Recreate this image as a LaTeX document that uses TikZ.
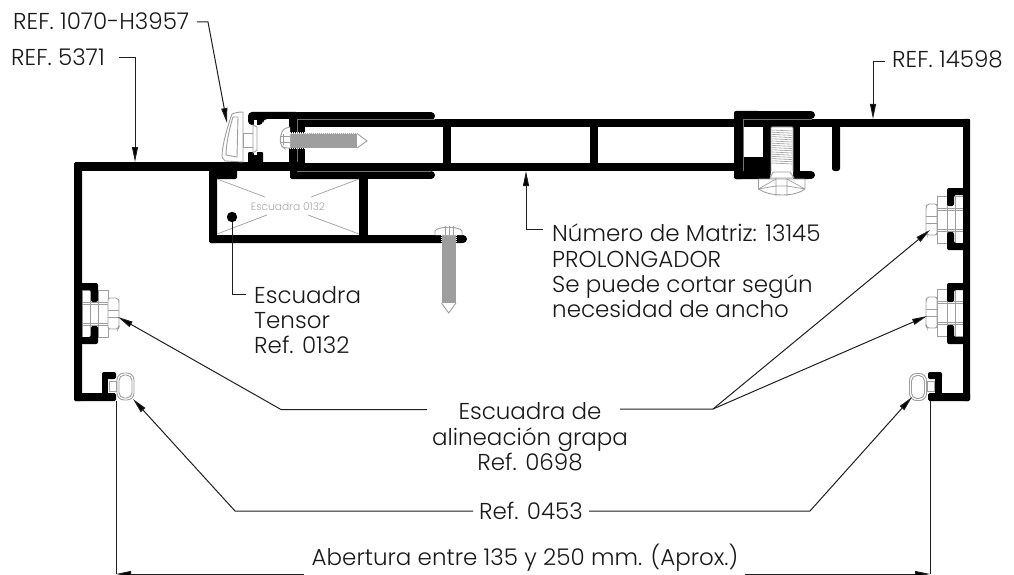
\documentclass[tikz,border=0pt]{standalone}
\usepackage{fontspec}
\setmainfont{Poppins}[UprightFont=* Light]
\usetikzlibrary{arrows.meta}
\definecolor{leadc}{gray}{0.12}
\definecolor{partc}{gray}{0.62}
\definecolor{screwc}{gray}{0.62}
\tikzset{
  blk/.style={fill=black,draw=none},
  wht/.style={fill=white,draw=none},
  part/.style={draw=partc,line width=0.9pt,fill=white},
  thin mark/.style={draw=black!55!white,line width=0.5pt},
  leader/.style={draw=leadc,line width=1pt},
  arrowed/.style={leader,-{Triangle[length=15pt,width=6pt,fill=black]}},
  label/.style={inner sep=0pt,font=\fontsize{23}{25.3}\selectfont,text=black!90!white},
  small/.style={inner sep=0pt,font=\fontsize{10.6}{12}\selectfont,text=black!35!white}
}
% alignment clip: origin at the wall face, pointing to +x
\newcommand{\grapaclip}{%
  \draw[part] (0,-24) rectangle (8,23);
  \draw[part] (8,-24) rectangle (16,23);
  \draw[part] (16,-24) rectangle (26,23);
  \draw[part,rounded corners=2pt] (26,-16) -- (36,-16) -- (37,-13) -- (37,13) -- (36,15) -- (26,15) -- cycle;
  \draw[partc,line width=0.8pt] (0,-12) -- (26,-12) (0,-9.5) -- (26,-9.5) (0,9) -- (26,9) (0,11.5) -- (26,11.5) (26,-4) -- (37,-4) (26,3) -- (37,3) (8,-12) -- (8,11) (16,-12) -- (16,11);
}
% oval clip
\newcommand{\ovalclip}{%
  \draw[part,rounded corners=7pt] (-8.5,-13.5) rectangle (8.5,13.5);
  \draw[part,rounded corners=5.5pt] (-6.5,-11.5) rectangle (6.5,11.5);
}
\begin{document}
\begin{tikzpicture}[x=1pt,y=-1pt]
\useasboundingbox (0,0) rectangle (1014,575);
% ---- gray parts under the profiles
\begin{scope}[shift={(82,314)}]\grapaclip\end{scope}
\begin{scope}[shift={(963,220)},xscale=-1]\grapaclip\end{scope}
\begin{scope}[shift={(963,313)},xscale=-1]\grapaclip\end{scope}
% ---- left profile REF. 5371
\fill[blk,rounded corners=1.5pt] (74,162) rectangle (82,401);
\fill[blk] (76,162) rectangle (305,171);
\fill[blk,rounded corners=1.5pt] (74,393) rectangle (116,401);
\fill[blk,rounded corners=2pt] (102,372) rectangle (116,379);
\fill[blk] (102,374) rectangle (108,395);
\fill[blk,rounded corners=2pt] (76,283) -- (98,283) -- (98,302) -- (91,302) -- (91,290) -- (76,290) -- cycle;
\fill[blk,rounded corners=2pt] (76,344) -- (98,344) -- (98,326) -- (91,326) -- (91,337) -- (76,337) -- cycle;
% box with square Escuadra
\fill[blk,rounded corners=1.5pt] (209,168) rectangle (217,243);
\fill[blk,rounded corners=1.5pt] (209,235) rectangle (463,243);
\fill[blk] (463,239) circle (4);
\fill[blk] (359,175) rectangle (368,240);
\fill[blk,rounded corners=1.5pt] (209,168) rectangle (237,179);
\fill[blk,rounded corners=1.5pt] (290,168) rectangle (360,179);
% ---- middle profile: PROLONGADOR
\fill[blk,rounded corners=4pt] (248,125) -- (248,112) -- (300,112) -- (300,119) -- (263,119) -- (263,125) -- cycle;
\fill[blk] (290,112) rectangle (431,120);
\fill[blk] (431,116) circle (4);
\fill[blk] (289,112) rectangle (305,171);
\fill[blk] (300,119) rectangle (740,127);
\fill[blk] (300,163) rectangle (740,171);
\fill[blk] (300,171) rectangle (431,179);
\fill[blk] (431,175) circle (4);
\fill[blk] (443,127) rectangle (451,163);
\fill[blk] (590,127) rectangle (598,163);
\fill[blk,rounded corners=1pt] (248,152) rectangle (263,163);
\fill[wht] (253.5,120) rectangle (257,127);
\fill[wht] (253.5,151) rectangle (257,155);
\draw[thin mark] (297,119) -- (297,162) (297,119) -- (435,119) (297,171) -- (431,171);
% ---- right profile REF. 14598
\fill[blk,rounded corners=2pt] (734,122) -- (734,111) -- (760,111) -- (760,122) -- cycle;
\fill[blk] (740,111) rectangle (811,120);
\fill[blk] (811,115) circle (4);
\fill[blk,rounded corners=1.5pt] (734,115) rectangle (743,179);
\fill[blk] (743,119) rectangle (970,127);
\fill[blk,rounded corners=1.5pt] (963,119) rectangle (970,401);
\fill[blk,rounded corners=2pt] (734,171) rectangle (811,179);
\fill[blk] (811,175) circle (4);
\fill[blk] (743,157) rectangle (763,171);
\fill[blk] (763,127) rectangle (771,172);
\fill[blk] (793,127) rectangle (800,172);
\fill[blk,rounded corners=2.5pt] (832,125) rectangle (840,171);
\fill[blk,rounded corners=2pt] (965,188) -- (947,188) -- (947,206) -- (954,206) -- (954,195) -- (965,195) -- cycle;
\fill[blk,rounded corners=2pt] (965,250) -- (947,250) -- (947,232) -- (954,232) -- (954,243) -- (965,243) -- cycle;
\fill[blk,rounded corners=2pt] (965,283) -- (947,283) -- (947,302) -- (954,302) -- (954,290) -- (965,290) -- cycle;
\fill[blk,rounded corners=2pt] (965,344) -- (947,344) -- (947,325) -- (954,325) -- (954,337) -- (965,337) -- cycle;
\fill[blk,rounded corners=1.5pt] (928,393) rectangle (970,401);
\fill[blk,rounded corners=2pt] (928,372) rectangle (942,379);
\fill[blk] (935,374) rectangle (942,395);
\draw[thin mark] (743,119) -- (743,171) (743,119) -- (812,119);
% ---- box contents
\draw[partc,line width=0.7pt] (217,179) -- (265,197) (359,179) -- (311,197) (217,234) -- (267,215) (359,234) -- (308,215);
\draw[white,line width=0.8pt] (217,234.5) -- (359,234.5);
\node[small] (esc132) at (288,207) {Escuadra 0132};
% ---- oval clips
\begin{scope}[shift={(125.5,386.5)}]\ovalclip\end{scope}
\begin{scope}[shift={(918,387)}]\ovalclip\end{scope}
\draw[part] (109,381) rectangle (116,391);
\draw[part] (927,381) rectangle (934,391);
% ---- clip REF. 1070-H3957
\draw[part] (243,112) .. controls (238,112) and (234,113) .. (232,114) .. controls (228,125) and (222,145) .. (222,157) -- (225,161) -- (243,162) -- cycle;
\draw[part] (238,117) -- (233,117) .. controls (229,130) and (226,145) .. (226,155) -- (237,157) -- cycle;
\draw[part] (243,133) rectangle (253,147);
\draw[part] (253,125) -- (257,127) -- (257,150) -- (253,153) -- cycle;
% ---- horizontal screw
\fill[screwc] (290,133.5) rectangle (357,148);
\foreach \i in {0,2,...,66}{\fill[white] (290+\i,132.5) rectangle (291+\i,134);\fill[white] (290+\i,147.5) rectangle (291+\i,149);}
\draw[part] (357,133.5) -- (367,141) -- (357,148);
\draw[part,rounded corners=3pt] (290,127) -- (283,129) -- (280,138) -- (281,146) -- (284,148) -- (290,148);
\draw[partc,line width=0.7pt] (280,136) -- (290,136) (280,142) -- (290,142) (283,134) -- (283,145);
% ---- vertical screw
\fill[screwc] (441.5,235) rectangle (456,303);
\foreach \i in {0,2,...,68}{\fill[white] (440.5,235+\i) rectangle (442,236+\i);\fill[white] (455.5,235+\i) rectangle (457,236+\i);}
\draw[part] (441.5,303) -- (448.7,313) -- (456,303);
\draw[part] (435,235) -- (435,231) .. controls (437,226) and (460,226) .. (462,231) -- (462,235);
\draw[partc,line width=0.7pt] (445,226) -- (445,235) (449,226) -- (449,235) (453,226) -- (453,235);
% ---- bolt in right profile
\fill[white] (771,127) rectangle (793,172);
\draw[part,rounded corners=1pt] (771,127) rectangle (793,172);
\foreach \i in {0,2.2,...,34}{\draw[partc,line width=0.6pt] (772,130+\i) -- (792,131+\i);}
\fill[white] (771,171) -- (793,171) -- (793,179) -- (770,179) -- cycle;
\draw[part] (770,178) -- (773,172) -- (790,172) -- (794,178) -- cycle;
\draw[part] (758.5,179) -- (805,179) -- (805,189) .. controls (795,197) and (770,197) .. (758.5,189) -- cycle;
\draw[partc,line width=0.7pt] (776,178) -- (776,196) (787,178) -- (787,196) (776,186) -- (787,186) (758.5,189) -- (776,179) (805,189) -- (787,179) (758.5,189) -- (776,186) (805,189) -- (787,186);
% ---- labels
\node[label,anchor=base west] (ref1070) at (13,30) {REF. 1070-H3957};
\node[label,anchor=base west] (ref5371) at (11,66) {REF. 5371};
\node[label,anchor=base west] (ref14598) at (892,68) {REF. 14598};
\node[label,anchor=west,align=left] (matriz) at (552,271) {Número de Matriz: 13145\\PROLONGADOR\\Se puede cortar según\\necesidad de ancho};
\node[label,anchor=west,align=left] (tensor) at (254,320) {Escuadra\\Tensor\\Ref. 0132};
\node[label,align=center] (grapa) at (530,437) {Escuadra de\\alineación grapa\\Ref. 0698};
\node[label,anchor=base] (r453) at (531,519) {Ref. 0453};
\node[label,anchor=base] (abert) at (525,565) {Abertura entre 135 y 250 mm. (Aprox.)};
% ---- connector coordinates
\coordinate (a1) at (197,22); \coordinate (a2) at (208,22); \coordinate (t1070) at (227,123);
\coordinate (b1) at (119,58); \coordinate (b2) at (135,58); \coordinate (t5371) at (135,162);
\coordinate (c1) at (885,62); \coordinate (c2) at (873,62); \coordinate (t14598) at (873,119);
\coordinate (d1) at (543,229.5); \coordinate (d2) at (526,229.5); \coordinate (tmatriz) at (526,171);
\coordinate (e1) at (246,294); \coordinate (e2) at (232,294); \coordinate (dot) at (232,217);
\coordinate (f1) at (427,409.5); \coordinate (f2) at (281,409.5); \coordinate (tg1) at (118,317);
\coordinate (g1) at (620,409); \coordinate (g2) at (713,409); \coordinate (tg2) at (930,230); \coordinate (tg3) at (927,316);
\coordinate (h1) at (473,511); \coordinate (h2) at (235,511); \coordinate (tr1) at (133,399);
\coordinate (i1) at (589,511); \coordinate (i2) at (810,511); \coordinate (tr2) at (912,397);
\coordinate (j0) at (116,401); \coordinate (j1) at (116,574); \coordinate (j2) at (304,574);
\coordinate (k0) at (930,401); \coordinate (k1) at (930,574); \coordinate (k2) at (745,574);
% ---- connectors
\draw[arrowed] (a1) -- (a2) -- (t1070);
\draw[arrowed] (b1) -- (b2) -- (t5371);
\draw[arrowed] (c1) -- (c2) -- (t14598);
\draw[arrowed] (d1) -- (d2) -- (tmatriz);
\draw[leader] (e1) -- (e2) -- (dot);
\fill[black] (dot) circle (5.2);
\draw[arrowed] (f1) -- (f2) -- (tg1);
\draw[arrowed] (g1) -- (g2) -- (tg2);
\draw[arrowed] (g2) -- (tg3);
\draw[arrowed] (h1) -- (h2) -- (tr1);
\draw[arrowed] (i1) -- (i2) -- (tr2);
\draw[leader] (j0) -- (j1);
\draw[leader] (k0) -- (k1);
\draw[arrowed] (j2) -- (j1);
\draw[arrowed] (k2) -- (k1);
\end{tikzpicture}
\end{document}
